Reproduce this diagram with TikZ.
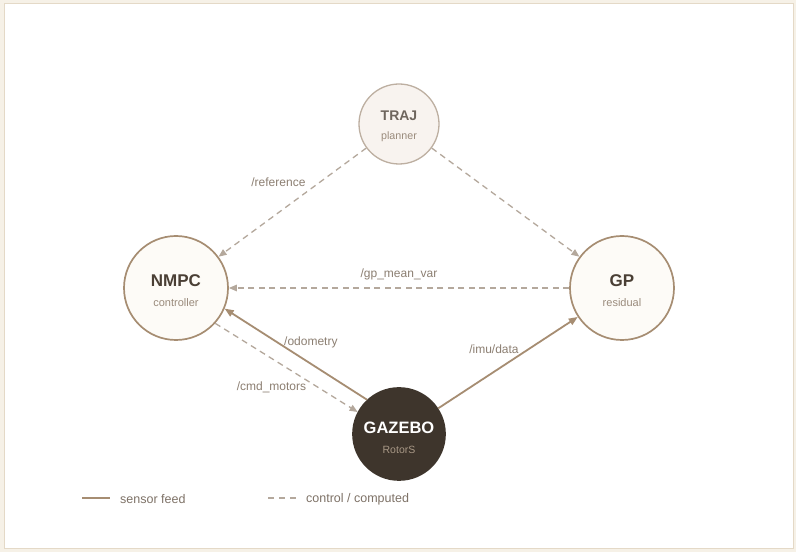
\documentclass[tikz,border=0pt]{standalone}
\usepackage{fontspec}
\setmainfont{Liberation Sans}
\usepackage{tikz}
\usetikzlibrary{arrows.meta, positioning}

\definecolor{pagebg}{HTML}{F6F1E7}
\definecolor{panelrule}{HTML}{E4D9C7}
\definecolor{sensorcol}{HTML}{A68D72}
\definecolor{ctrlcol}{HTML}{B4A89C}
\definecolor{labelcol}{HTML}{8C7F72}
\definecolor{namecol}{HTML}{4A3F35}
\definecolor{subcol}{HTML}{9A8B7C}
\definecolor{hubfill}{HTML}{FDFBF7}
\definecolor{trajfill}{HTML}{F8F3EF}
\definecolor{trajrule}{HTML}{BDAFA1}
\definecolor{simfill}{HTML}{3E352C}
\definecolor{simsub}{HTML}{A89886}

\begin{document}
\begin{tikzpicture}[x=1pt,y=1pt]
 \tikzstyle{hub}=[circle,draw=sensorcol,line width=1.7pt,fill=hubfill,
   inner sep=0pt,align=center,minimum size=104pt]
 \tikzstyle{sensor}=[draw=sensorcol,line width=1.8pt,
   -{Triangle[length=9pt,width=7pt]}]
 \tikzstyle{ctrl}=[draw=ctrlcol,line width=1.3pt,dash pattern=on 6pt off 4.5pt,
   -{Triangle[length=8pt,width=6.5pt]}]
 \tikzstyle{lbl}=[text=labelcol,font=\fontsize{12}{13}\selectfont,inner sep=1pt]
 \tikzstyle{legtext}=[text=labelcol!90!black,font=\fontsize{12.5}{14}\selectfont,
   anchor=west,inner sep=0pt]
 % page and panel
 \fill[pagebg] (0,0) rectangle (796,552);
 \draw[panelrule,fill=white,line width=0.8pt] (4,4) rectangle (793,549);
 % nodes
 \node (traj) [hub,minimum size=80pt,fill=trajfill,draw=trajrule,line width=1.3pt]
   at (399,428)
   {\rule{0pt}{14pt}{\fontsize{14}{14}\selectfont\bfseries\color{namecol!80!white}TRAJ}\\[7pt]
    {\fontsize{10.7}{11}\selectfont\color{subcol}planner}};
 \node (nmpc) [hub] at (176,264)
   {\rule{0pt}{17pt}{\fontsize{17}{17}\selectfont\bfseries\color{namecol}NMPC}\\[8pt]
    {\fontsize{11}{11}\selectfont\color{subcol}controller}};
 \node (gp) [hub] at (622,264)
   {\rule{0pt}{17pt}{\fontsize{17}{17}\selectfont\bfseries\color{namecol}GP}\\[8pt]
    {\fontsize{11}{11}\selectfont\color{subcol}residual}};
 \node (gz) [hub,minimum size=92pt,fill=simfill,draw=simfill] at (399,118)
   {\rule{0pt}{20pt}{\fontsize{16.5}{17}\selectfont\bfseries\color{white}GAZEBO}\\[8pt]
    {\fontsize{10.5}{11}\selectfont\color{simsub}RotorS}};
 % connectors
 \draw[ctrl] (traj) -- node[lbl,xshift=-14pt,yshift=20pt]{/reference} (nmpc);
 \draw[ctrl] (traj) -- (gp);
 \draw[ctrl] (gp) -- node[lbl,yshift=14pt]{/gp\_mean\_var} (nmpc);
 \draw[sensor] (gz.133) -- node[lbl,xshift=15pt,yshift=12pt]{/odometry} (nmpc.-23);
 \draw[ctrl] (nmpc.-42) -- node[lbl,xshift=-15pt,yshift=-20pt]{/cmd\_motors} (gz.152);
 \draw[sensor] (gz) -- node[lbl,xshift=-14pt,yshift=13pt]{/imu/data} (gp);
 % legend
 \coordinate (sa) at (82,54);
 \coordinate (sb) at (110,54);
 \coordinate (ca) at (268,54);
 \coordinate (cb) at (296,54);
 \draw[draw=sensorcol,line width=1.8pt] (sa) -- (sb);
 \node (st) [legtext,right=10pt of sb,yshift=-1pt] {sensor feed};
 \draw[draw=ctrlcol,line width=1.3pt,dash pattern=on 6pt off 5pt] (ca) -- (cb);
 \node (ct) [legtext,right=10pt of cb,yshift=-1pt] {control / computed};
\end{tikzpicture}
\end{document}
